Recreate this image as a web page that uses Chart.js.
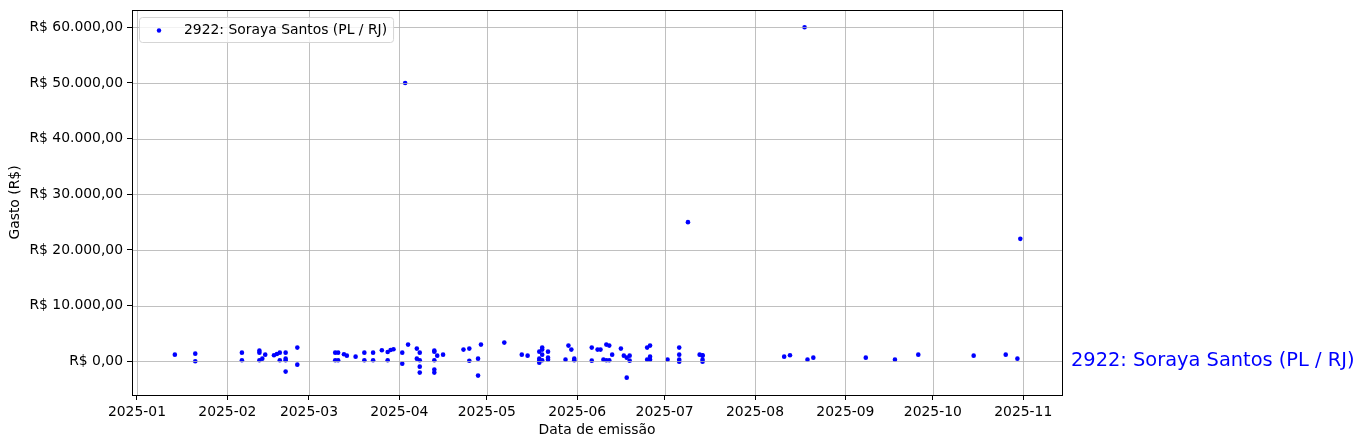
<!DOCTYPE html>
<html>
<head>
<meta charset="utf-8">
<script src="https://cdn.jsdelivr.net/npm/chart.js@4.4.1/dist/chart.umd.min.js"></script>
<style>
  html, body { margin: 0; padding: 0; background: #fff; }
</style>
</head>
<body>
<canvas id="myChart" width="1365" height="448"></canvas>
<script>
const seriesName = "2922: Soraya Santos (PL / RJ)";

// one entry per expense
const dates = [
  "2025-01-14",
  "2025-01-21", "2025-01-21",
  "2025-02-06", "2025-02-06",
  "2025-02-12", "2025-02-12", "2025-02-12",
  "2025-02-13", "2025-02-14", "2025-02-17", "2025-02-18",
  "2025-02-19", "2025-02-19",
  "2025-02-21", "2025-02-21", "2025-02-21", "2025-02-21",
  "2025-02-25", "2025-02-25",
  "2025-03-10", "2025-03-10", "2025-03-11", "2025-03-11",
  "2025-03-13", "2025-03-14", "2025-03-17",
  "2025-03-20", "2025-03-20", "2025-03-23", "2025-03-23",
  "2025-03-26", "2025-03-28", "2025-03-28", "2025-03-29", "2025-03-30",
  "2025-04-02", "2025-04-02", "2025-04-03", "2025-04-04",
  "2025-04-07", "2025-04-07",
  "2025-04-08", "2025-04-08", "2025-04-08", "2025-04-08",
  "2025-04-13", "2025-04-13", "2025-04-13", "2025-04-13", "2025-04-13",
  "2025-04-14", "2025-04-16", "2025-04-23",
  "2025-04-25", "2025-04-25", "2025-04-28", "2025-04-28", "2025-04-29",
  "2025-05-07", "2025-05-13", "2025-05-15",
  "2025-05-19", "2025-05-19", "2025-05-19", "2025-05-19",
  "2025-05-20", "2025-05-20", "2025-05-20", "2025-05-20",
  "2025-05-22", "2025-05-22", "2025-05-22",
  "2025-05-28", "2025-05-29", "2025-05-30", "2025-05-31", "2025-05-31",
  "2025-06-06", "2025-06-06", "2025-06-08", "2025-06-09", "2025-06-10",
  "2025-06-11", "2025-06-11", "2025-06-12", "2025-06-12", "2025-06-13",
  "2025-06-16", "2025-06-17", "2025-06-18", "2025-06-18", "2025-06-19", "2025-06-19",
  "2025-06-25", "2025-06-25", "2025-06-26", "2025-06-26", "2025-06-26",
  "2025-07-02",
  "2025-07-06", "2025-07-06", "2025-07-06", "2025-07-06",
  "2025-07-09", "2025-07-13",
  "2025-07-14", "2025-07-14", "2025-07-14", "2025-07-14",
  "2025-08-11", "2025-08-13", "2025-08-18", "2025-08-19", "2025-08-21",
  "2025-09-08", "2025-09-18", "2025-09-26",
  "2025-10-15", "2025-10-26", "2025-10-30", "2025-10-31"
];
const values = [
  1200,
  1380, 0,
  1560, 180,
  1920, 1560, 180,
  480, 1200, 1080, 1310,
  1560, 180,
  1560, 480, 200, -1850,
  2460, -600,
  1560, 180, 1560, 180,
  1260, 1020, 840,
  1560, 180, 1560, 180,
  1980, 1670, 180, 2030, 2160,
  1560, -420, 50000, 3000,
  2280, 480,
  1560, 180, -960, -2030,
  1920, 1740, 180, -1490, -2030,
  1020, 1200, 2100,
  2280, 100, 480, -2570, 3000,
  3360, 1200, 1020,
  1740, 480, 120, -240,
  2460, 2100, 1200, 180,
  1740, 660, 300,
  300, 2820, 2100, 480, 180,
  2460, 120, 2100, 2100, 300,
  3000, 180, 2820, 180, 1200,
  2280, 1020, 660, -2930, 1020, 120,
  2460, 300, 2820, 840, 300,
  300,
  2460, 1200, 300, -60,
  25000, 1200,
  1080, 1020, 300, -60,
  840, 1080, 60000, 300, 660,
  660, 300, 1200,
  1020, 1200, 480, 22000
];

const monthTicks = ["2025-01-01", "2025-02-01", "2025-03-01", "2025-04-01", "2025-05-01", "2025-06-01",
                    "2025-07-01", "2025-08-01", "2025-09-01", "2025-10-01", "2025-11-01"];
const monthLabels = ["2025-01", "2025-02", "2025-03", "2025-04", "2025-05", "2025-06",
                     "2025-07", "2025-08", "2025-09", "2025-10", "2025-11"];
const yTicks = [0, 10000, 20000, 30000, 40000, 50000, 60000];

// days since 2025-01-01
const dayNum = (s) => {
  const [y, m, d] = s.split("-").map(Number);
  return (Date.UTC(y, m - 1, d) - Date.UTC(2025, 0, 1)) / 86400000;
};

const brl = (v) => {
  const neg = v < 0;
  let [int, dec] = Math.abs(v).toFixed(2).split(".");
  int = int.replace(/\B(?=(\d{3})+(?!\d))/g, ".");
  return "R$ " + (neg ? "-" : "") + int + "," + dec;
};

const FONT = "'DejaVu Sans', sans-serif";

const points = dates.map((d, i) => ({ x: dayNum(d), y: values[i] }));

const overlay = {
  id: "overlay",
  afterDatasetsDraw(chart) {
    const { ctx, chartArea: a, scales } = chart;
    const x = scales.x, y = scales.y;
    ctx.save();
    // grid sits over the markers, like the original
    ctx.strokeStyle = "#b0b0b0";
    ctx.lineWidth = 0.8;
    monthTicks.forEach((t) => {
      const px = Math.round(x.getPixelForValue(dayNum(t))) + 0.5;
      ctx.beginPath(); ctx.moveTo(px, a.top); ctx.lineTo(px, a.bottom); ctx.stroke();
    });
    yTicks.forEach((t) => {
      const py = Math.round(y.getPixelForValue(t)) + 0.5;
      ctx.beginPath(); ctx.moveTo(a.left, py); ctx.lineTo(a.right, py); ctx.stroke();
    });
    // frame
    ctx.strokeStyle = "#000";
    ctx.lineWidth = 1;
    ctx.strokeRect(Math.round(a.left) + 0.5, Math.round(a.top) + 0.5,
                   Math.round(a.right - a.left), Math.round(a.bottom - a.top));

    // legend box
    ctx.font = "13.9px " + FONT;
    const tw = ctx.measureText(seriesName).width;
    const lx = a.left + 7, ly = a.top + 7, lw = 45 + tw + 6, lh = 25;
    ctx.beginPath();
    ctx.roundRect(lx + 0.5, ly + 0.5, lw, lh, 3);
    ctx.fillStyle = "rgba(255,255,255,0.8)";
    ctx.fill();
    ctx.strokeStyle = "#d5d5d5";
    ctx.stroke();
    ctx.fillStyle = "#0000ff";
    ctx.beginPath();
    ctx.arc(lx + 20, ly + 13.5, 2.2, 0, Math.PI * 2);
    ctx.fill();
    ctx.fillStyle = "#000";
    ctx.textBaseline = "middle";
    ctx.textAlign = "left";
    ctx.fillText(seriesName, lx + 45, ly + 13);

    // name at the right of the axes
    ctx.font = "19.4px " + FONT;
    ctx.fillStyle = "#0000ff";
    ctx.fillText(seriesName, a.right + 9, y.getPixelForValue(0));
    ctx.restore();
  }
};

new Chart("myChart", {
  type: "scatter",
  data: {
    datasets: [{
      label: seriesName,
      data: points,
      backgroundColor: "#0000ff",
      borderWidth: 0,
      pointRadius: 2.3,
      pointHoverRadius: 2.3,
    }],
  },
  options: {
    responsive: false,
    animation: false,
    events: [],
    layout: { padding: { top: 10, right: 303, left: 0, bottom: 0 } },
    plugins: {
      legend: { display: false },
      tooltip: { enabled: false },
    },
    scales: {
      x: {
        type: "linear",
        min: -1.7,
        max: 317.3,
        afterFit: (s) => { s.height = 53; s.paddingLeft = 0; s.paddingRight = 0; },
        afterBuildTicks: (s) => { s.ticks = monthTicks.map((t) => ({ value: dayNum(t) })); },
        grid: { drawOnChartArea: false, tickLength: 5, tickColor: "#000", tickWidth: 1 },
        border: { display: false },
        ticks: {
          autoSkip: false, maxRotation: 0, padding: 4, color: "#000",
          font: { family: FONT, size: 13.9 },
          callback: (v, i) => monthLabels[i],
        },
        title: {
          display: true, text: "Data de emissão", color: "#000",
          font: { family: FONT, size: 13.9 }, padding: { top: 4, bottom: 9.5 },
        },
      },
      y: {
        min: -6050,
        max: 63100,
        afterFit: (s) => { s.width = 132; s.paddingTop = 0; s.paddingBottom = 0; },
        afterBuildTicks: (s) => { s.ticks = yTicks.map((v) => ({ value: v })); },
        grid: { drawOnChartArea: false, tickLength: 5, tickColor: "#000", tickWidth: 1 },
        border: { display: false },
        ticks: {
          padding: 4, color: "#000",
          font: { family: FONT, size: 13.9 },
          callback: (v) => brl(v),
        },
        title: {
          display: true, text: "Gasto (R$)", color: "#000",
          font: { family: FONT, size: 13.9 }, padding: { top: 7.5, bottom: 4 },
        },
      },
    },
  },
  plugins: [overlay],
});
</script>
</body>
</html>
